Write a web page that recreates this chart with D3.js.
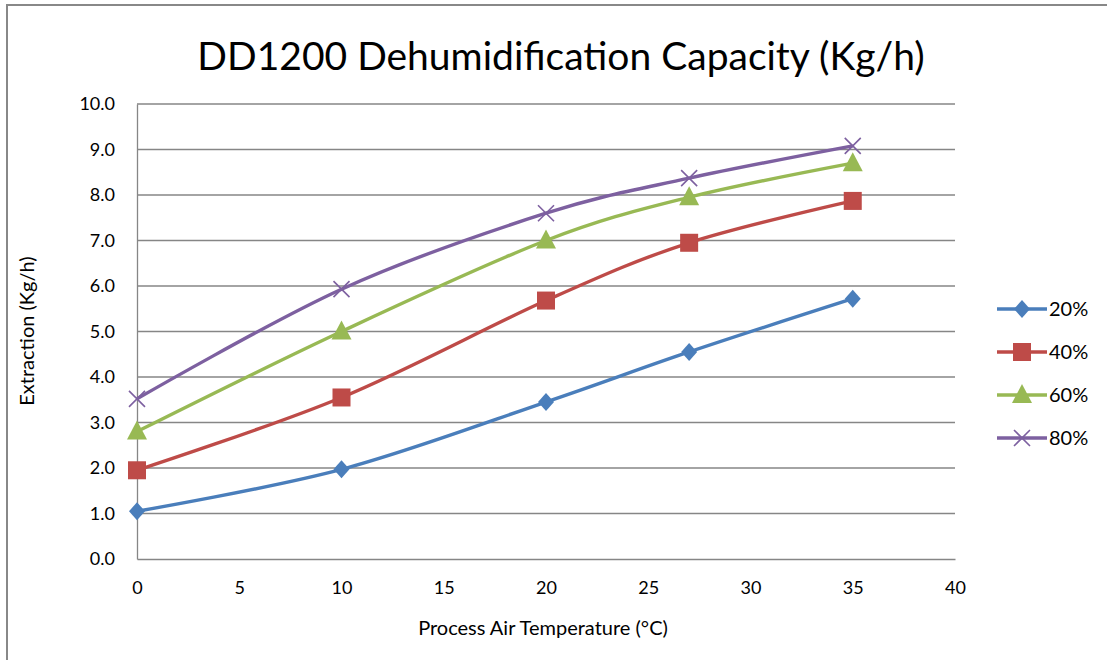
<!DOCTYPE html>
<html>
<head>
<meta charset="utf-8">
<script src="https://cdn.jsdelivr.net/npm/d3@7"></script>
<style>
  body { margin: 0; background: #fff; }
  text { font-family: Lato, "Open Sans", sans-serif; fill: #000; }
</style>
</head>
<body>
<div id="chart"></div>
<script>
var temps = [0, 10, 20, 27, 35];
var seriesNames = ["20%", "40%", "60%", "80%"];
var rh20 = [1.05, 1.97, 3.45, 4.55, 5.72];
var rh40 = [1.95, 3.55, 5.68, 6.95, 7.87];
var rh60 = [2.80, 5.00, 7.00, 7.95, 8.70];
var rh80 = [3.52, 5.93, 7.60, 8.37, 9.08];
var xTicks = [0, 5, 10, 15, 20, 25, 30, 35, 40];
var yTicks = [0, 1, 2, 3, 4, 5, 6, 7, 8, 9, 10];

var colors = ["#4a7ebb", "#be4b48", "#98b954", "#7d60a0"];
var shapes = ["diamond", "square", "triangle", "cross"];
var values = [rh20, rh40, rh60, rh80];

var W = 1107, H = 660;
var margin = {top: 104, right: 152, bottom: 101, left: 137};
var width = W - margin.left - margin.right;
var height = H - margin.top - margin.bottom;

var svg = d3.select("#chart").append("svg")
    .attr("width", W).attr("height", H);

// outer frame (only top and left edges visible)
svg.append("path")
   .attr("d", "M7,660 L7,5 L1107,5")
   .attr("fill", "none")
   .attr("stroke", "#888")
   .attr("stroke-width", 2);

var g = svg.append("g")
    .attr("transform", "translate(" + margin.left + "," + margin.top + ")");

var x = d3.scaleLinear().domain([0, 40]).range([0, width]);
var y = d3.scaleLinear().domain([0, 10]).range([height, 0]);

// gridlines
g.append("g")
  .selectAll("line")
  .data(yTicks.slice(1))
  .enter().append("line")
  .attr("x1", 0).attr("x2", width)
  .attr("y1", function(d) { return y(d); })
  .attr("y2", function(d) { return y(d); })
  .attr("stroke", "#868686")
  .attr("stroke-width", 1.3);

// axes
var yAxis = g.append("g")
   .call(d3.axisLeft(y).tickValues(yTicks).tickSize(0).tickPadding(22)
         .tickFormat(d3.format(".1f")));
var xAxis = g.append("g")
   .attr("transform", "translate(0," + height + ")")
   .call(d3.axisBottom(x).tickValues(xTicks).tickSize(0).tickPadding(22));

[xAxis, yAxis].forEach(function(a) {
  a.select(".domain").attr("stroke", "#868686").attr("stroke-width", 1.3);
  a.selectAll("text").style("font-size", "18px").style("font-family", "Lato, sans-serif");
});

// lines
var line = d3.line()
    .curve(d3.curveCardinal)
    .x(function(d, i) { return x(temps[i]); })
    .y(function(d) { return y(d); });

function marker(sel, shape, color) {
  if (shape === "diamond") {
    sel.append("path").attr("d", "M0,-9 L8,0 L0,9 L-8,0 Z").attr("fill", color);
  } else if (shape === "square") {
    sel.append("rect").attr("x", -9).attr("y", -9).attr("width", 18).attr("height", 18)
       .attr("fill", color);
  } else if (shape === "triangle") {
    sel.append("path").attr("d", "M0,-11 L10,8 L-10,8 Z").attr("fill", color);
  } else {
    sel.append("path").attr("d", "M-8,-8 L8,8 M-8,8 L8,-8")
       .attr("stroke", color).attr("stroke-width", 1.6).attr("fill", "none");
  }
}

values.forEach(function(vals, s) {
  g.append("path")
    .datum(vals)
    .attr("fill", "none")
    .attr("stroke", colors[s])
    .attr("stroke-width", 3.4)
    .attr("d", line);
  vals.forEach(function(v, i) {
    var m = g.append("g").attr("transform", "translate(" + x(temps[i]) + "," + y(v) + ")");
    marker(m, shapes[s], colors[s]);
  });
});

// legend
var legend = svg.append("g").attr("transform", "translate(997,309)");
seriesNames.forEach(function(name, s) {
  var row = legend.append("g").attr("transform", "translate(0," + (s * 43) + ")");
  row.append("line").attr("x1", 0).attr("x2", 50).attr("y1", 0).attr("y2", 0)
     .attr("stroke", colors[s]).attr("stroke-width", 3.4);
  var m = row.append("g").attr("transform", "translate(25,0)");
  marker(m, shapes[s], colors[s]);
  row.append("text").attr("x", 52).attr("y", 0).attr("dy", "0.35em")
     .style("font-size", "20px").text(name);
});

// title
svg.append("text")
   .attr("x", 561).attr("y", 70)
   .attr("text-anchor", "middle")
   .style("font-size", "39px")
   .text("DD1200 Dehumidification Capacity (Kg/h)");

// axis titles
svg.append("text")
   .attr("x", 543).attr("y", 635)
   .attr("text-anchor", "middle")
   .style("font-size", "20px")
   .text("Process Air Temperature (°C)");

svg.append("text")
   .attr("transform", "translate(34,331) rotate(-90)")
   .attr("text-anchor", "middle")
   .style("font-size", "20px")
   .text("Extraction (Kg/h)");
</script>
</body>
</html>
